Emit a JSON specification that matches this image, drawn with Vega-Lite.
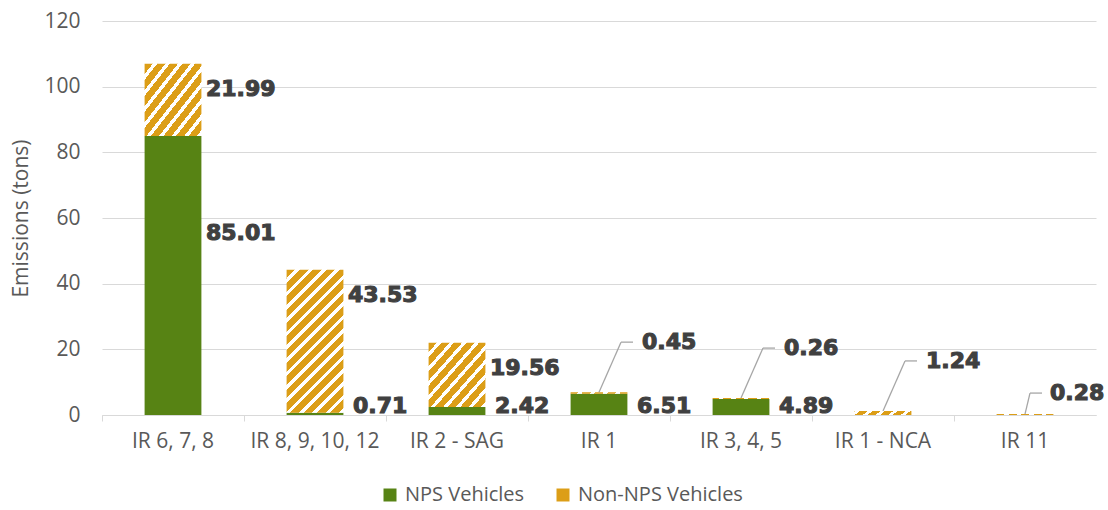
{
  "$schema": "https://vega.github.io/schema/vega-lite/v6.json",
  "width": 994,
  "height": 394,
  "autosize": {"type": "none"},
  "padding": {"left": 102, "top": 21, "right": 12, "bottom": 95},
  "background": "white",
  "config": {
    "view": {"stroke": null},
    "font": "Open Sans"
  },
  "data": {
    "values": [
      {"region": "IR 6, 7, 8", "type": "NPS Vehicles", "value": 85.01},
      {"region": "IR 6, 7, 8", "type": "Non-NPS Vehicles", "value": 21.99},
      {"region": "IR 8, 9, 10, 12", "type": "NPS Vehicles", "value": 0.71},
      {"region": "IR 8, 9, 10, 12", "type": "Non-NPS Vehicles", "value": 43.53},
      {"region": "IR 2 - SAG", "type": "NPS Vehicles", "value": 2.42},
      {"region": "IR 2 - SAG", "type": "Non-NPS Vehicles", "value": 19.56},
      {"region": "IR 1", "type": "NPS Vehicles", "value": 6.51},
      {"region": "IR 1", "type": "Non-NPS Vehicles", "value": 0.45},
      {"region": "IR 3, 4, 5", "type": "NPS Vehicles", "value": 4.89},
      {"region": "IR 3, 4, 5", "type": "Non-NPS Vehicles", "value": 0.26},
      {"region": "IR 1 - NCA", "type": "Non-NPS Vehicles", "value": 1.24},
      {"region": "IR 11", "type": "Non-NPS Vehicles", "value": 0.28}
    ]
  },
  "transform": [
    {"stack": "value", "groupby": ["region"], "sort": [{"field": "type", "order": "ascending"}], "as": ["y0", "y1"]}
  ],
  "encoding": {
    "x": {
      "field": "region",
      "type": "nominal",
      "sort": null,
      "scale": {"paddingInner": 0, "paddingOuter": 0},
      "axis": {
        "title": null,
        "labelAngle": 0,
        "labelFont": "Open Sans",
        "labelFontSize": 21,
        "labelColor": "#595959",
        "domainColor": "#d9d9d9",
        "domainWidth": 1,
        "tickColor": "#d9d9d9",
        "tickSize": 6,
        "bandPosition": 0,
        "labelPadding": 9,
        "grid": false
      }
    }
  },
  "layer": [
    {
      "transform": [{"filter": "datum.type === 'NPS Vehicles'"}],
      "mark": {"type": "bar", "width": {"band": 0.4}},
      "encoding": {
        "y": {
          "field": "y1",
          "type": "quantitative",
          "scale": {"domain": [0, 120], "nice": false},
          "axis": {
            "title": "Emissions (tons)",
            "values": [0, 20, 40, 60, 80, 100, 120],
            "labelFont": "Open Sans",
            "labelFontSize": 21,
            "labelColor": "#595959",
            "labelPadding": 22,
            "ticks": false,
            "domain": false,
            "gridColor": "#d9d9d9",
            "gridWidth": 1,
            "titleFont": "Open Sans",
            "titleFontSize": 21,
            "titleFontWeight": "normal",
            "titleColor": "#595959",
            "titlePadding": 12
          }
        },
        "y2": {"field": "y0"},
        "color": {
          "field": "type",
          "type": "nominal",
          "scale": {"domain": ["NPS Vehicles", "Non-NPS Vehicles"], "range": ["#578314", "#dc9e17"]},
          "legend": {
            "title": null,
            "orient": "none",
            "direction": "horizontal",
            "legendX": 278,
            "legendY": 464,
            "symbolType": "square",
            "symbolSize": 169,
            "symbolStrokeWidth": 0,
            "labelFont": "Open Sans",
            "labelFontSize": 20,
            "labelColor": "#595959",
            "labelOffset": 5,
            "labelLimit": 400,
            "columnPadding": 28
          }
        }
      }
    },
    {
      "transform": [{"filter": "datum.type === 'Non-NPS Vehicles' && datum.region !== 'IR 8, 9, 10, 12'"}],
      "mark": {
        "type": "bar",
        "width": {"band": 0.4},
        "fill": {
          "gradient": "linear", "x1": 0, "y1": 0, "x2": 1, "y2": 1,
          "stops": [
            {"offset": 0, "color": "#dc9e17"}, {"offset": 0.0722, "color": "#dc9e17"}, {"offset": 0.0722, "color": "#ffffff"}, {"offset": 0.1111, "color": "#ffffff"},
            {"offset": 0.1111, "color": "#dc9e17"}, {"offset": 0.1833, "color": "#dc9e17"}, {"offset": 0.1833, "color": "#ffffff"}, {"offset": 0.2222, "color": "#ffffff"},
            {"offset": 0.2222, "color": "#dc9e17"}, {"offset": 0.2944, "color": "#dc9e17"}, {"offset": 0.2944, "color": "#ffffff"}, {"offset": 0.3333, "color": "#ffffff"},
            {"offset": 0.3333, "color": "#dc9e17"}, {"offset": 0.4056, "color": "#dc9e17"}, {"offset": 0.4056, "color": "#ffffff"}, {"offset": 0.4444, "color": "#ffffff"},
            {"offset": 0.4444, "color": "#dc9e17"}, {"offset": 0.5167, "color": "#dc9e17"}, {"offset": 0.5167, "color": "#ffffff"}, {"offset": 0.5556, "color": "#ffffff"},
            {"offset": 0.5556, "color": "#dc9e17"}, {"offset": 0.6278, "color": "#dc9e17"}, {"offset": 0.6278, "color": "#ffffff"}, {"offset": 0.6667, "color": "#ffffff"},
            {"offset": 0.6667, "color": "#dc9e17"}, {"offset": 0.7389, "color": "#dc9e17"}, {"offset": 0.7389, "color": "#ffffff"}, {"offset": 0.7778, "color": "#ffffff"},
            {"offset": 0.7778, "color": "#dc9e17"}, {"offset": 0.85, "color": "#dc9e17"}, {"offset": 0.85, "color": "#ffffff"}, {"offset": 0.8889, "color": "#ffffff"},
            {"offset": 0.8889, "color": "#dc9e17"}, {"offset": 0.9611, "color": "#dc9e17"}, {"offset": 0.9611, "color": "#ffffff"}, {"offset": 1, "color": "#ffffff"}
          ]
        }
      },
      "encoding": {
        "y": {"field": "y1", "type": "quantitative"},
        "y2": {"field": "y0"}
      }
    },
    {
      "transform": [{"filter": "datum.type === 'Non-NPS Vehicles' && datum.region === 'IR 8, 9, 10, 12'"}],
      "mark": {
        "type": "bar",
        "width": {"band": 0.4},
        "fill": {
          "gradient": "linear", "x1": 0, "y1": 0, "x2": 0.4814, "y2": 1.2069,
          "stops": [
            {"offset": 0, "color": "#dc9e17"}, {"offset": 0.0433, "color": "#dc9e17"}, {"offset": 0.0433, "color": "#ffffff"}, {"offset": 0.0667, "color": "#ffffff"},
            {"offset": 0.0667, "color": "#dc9e17"}, {"offset": 0.11, "color": "#dc9e17"}, {"offset": 0.11, "color": "#ffffff"}, {"offset": 0.1333, "color": "#ffffff"},
            {"offset": 0.1333, "color": "#dc9e17"}, {"offset": 0.1767, "color": "#dc9e17"}, {"offset": 0.1767, "color": "#ffffff"}, {"offset": 0.2, "color": "#ffffff"},
            {"offset": 0.2, "color": "#dc9e17"}, {"offset": 0.2433, "color": "#dc9e17"}, {"offset": 0.2433, "color": "#ffffff"}, {"offset": 0.2667, "color": "#ffffff"},
            {"offset": 0.2667, "color": "#dc9e17"}, {"offset": 0.31, "color": "#dc9e17"}, {"offset": 0.31, "color": "#ffffff"}, {"offset": 0.3333, "color": "#ffffff"},
            {"offset": 0.3333, "color": "#dc9e17"}, {"offset": 0.3767, "color": "#dc9e17"}, {"offset": 0.3767, "color": "#ffffff"}, {"offset": 0.4, "color": "#ffffff"},
            {"offset": 0.4, "color": "#dc9e17"}, {"offset": 0.4433, "color": "#dc9e17"}, {"offset": 0.4433, "color": "#ffffff"}, {"offset": 0.4667, "color": "#ffffff"},
            {"offset": 0.4667, "color": "#dc9e17"}, {"offset": 0.51, "color": "#dc9e17"}, {"offset": 0.51, "color": "#ffffff"}, {"offset": 0.5333, "color": "#ffffff"},
            {"offset": 0.5333, "color": "#dc9e17"}, {"offset": 0.5767, "color": "#dc9e17"}, {"offset": 0.5767, "color": "#ffffff"}, {"offset": 0.6, "color": "#ffffff"},
            {"offset": 0.6, "color": "#dc9e17"}, {"offset": 0.6433, "color": "#dc9e17"}, {"offset": 0.6433, "color": "#ffffff"}, {"offset": 0.6667, "color": "#ffffff"},
            {"offset": 0.6667, "color": "#dc9e17"}, {"offset": 0.71, "color": "#dc9e17"}, {"offset": 0.71, "color": "#ffffff"}, {"offset": 0.7333, "color": "#ffffff"},
            {"offset": 0.7333, "color": "#dc9e17"}, {"offset": 0.7767, "color": "#dc9e17"}, {"offset": 0.7767, "color": "#ffffff"}, {"offset": 0.8, "color": "#ffffff"},
            {"offset": 0.8, "color": "#dc9e17"}, {"offset": 0.8433, "color": "#dc9e17"}, {"offset": 0.8433, "color": "#ffffff"}, {"offset": 0.8667, "color": "#ffffff"},
            {"offset": 0.8667, "color": "#dc9e17"}, {"offset": 0.91, "color": "#dc9e17"}, {"offset": 0.91, "color": "#ffffff"}, {"offset": 0.9333, "color": "#ffffff"},
            {"offset": 0.9333, "color": "#dc9e17"}, {"offset": 0.9767, "color": "#dc9e17"}, {"offset": 0.9767, "color": "#ffffff"}, {"offset": 1, "color": "#ffffff"}
          ]
        }
      },
      "encoding": {
        "y": {"field": "y1", "type": "quantitative"},
        "y2": {"field": "y0"}
      }
    },
    {
      "transform": [{"filter": "datum.type === 'NPS Vehicles' && datum.region !== 'IR 6, 7, 8'"}],
      "mark": {"type": "text", "font": "DejaVu Sans", "fontWeight": "bold", "fontSize": 22, "color": "#404040", "stroke": "#404040", "strokeWidth": 1.1, "align": "left", "baseline": "middle", "dx": 38, "dy": -9},
      "encoding": {
        "y": {"field": "y0", "type": "quantitative"},
        "text": {"field": "value", "type": "quantitative", "format": ".2f"}
      }
    },
    {
      "transform": [{"filter": "datum.type === 'NPS Vehicles' && datum.region === 'IR 6, 7, 8'"}],
      "mark": {"type": "text", "font": "DejaVu Sans", "fontWeight": "bold", "fontSize": 22, "color": "#404040", "stroke": "#404040", "strokeWidth": 1.1, "align": "left", "baseline": "middle", "dx": 33, "dy": 97},
      "encoding": {
        "y": {"field": "y1", "type": "quantitative"},
        "text": {"field": "value", "type": "quantitative", "format": ".2f"}
      }
    },
    {
      "transform": [{"filter": "datum.type === 'Non-NPS Vehicles' && (datum.region === 'IR 6, 7, 8' || datum.region === 'IR 8, 9, 10, 12' || datum.region === 'IR 2 - SAG')"}],
      "mark": {"type": "text", "font": "DejaVu Sans", "fontWeight": "bold", "fontSize": 22, "color": "#404040", "stroke": "#404040", "strokeWidth": 1.1, "align": "left", "baseline": "middle", "dx": 33, "dy": 25},
      "encoding": {
        "y": {"field": "y1", "type": "quantitative"},
        "text": {"field": "value", "type": "quantitative", "format": ".2f"}
      }
    },
    {
      "transform": [{"filter": "datum.type === 'Non-NPS Vehicles' && (datum.region === 'IR 1' || datum.region === 'IR 3, 4, 5' || datum.region === 'IR 1 - NCA')"}],
      "mark": {"type": "rule", "color": "#a6a6a6", "strokeWidth": 1.3, "x2Offset": 22, "y2Offset": -50},
      "encoding": {
        "x2": {"field": "region"},
        "y": {"field": "y1", "type": "quantitative"},
        "y2": {"field": "y1"}
      }
    },
    {
      "transform": [{"filter": "datum.type === 'Non-NPS Vehicles' && (datum.region === 'IR 1' || datum.region === 'IR 3, 4, 5' || datum.region === 'IR 1 - NCA')"}],
      "mark": {"type": "rule", "color": "#a6a6a6", "strokeWidth": 1.3, "xOffset": 22, "x2Offset": 34, "yOffset": -50},
      "encoding": {
        "x2": {"field": "region"},
        "y": {"field": "y1", "type": "quantitative"}
      }
    },
    {
      "transform": [{"filter": "datum.type === 'Non-NPS Vehicles' && (datum.region === 'IR 1' || datum.region === 'IR 3, 4, 5' || datum.region === 'IR 1 - NCA')"}],
      "mark": {"type": "text", "font": "DejaVu Sans", "fontWeight": "bold", "fontSize": 22, "color": "#404040", "stroke": "#404040", "strokeWidth": 1.1, "align": "left", "baseline": "middle", "dx": 43, "dy": -50},
      "encoding": {
        "y": {"field": "y1", "type": "quantitative"},
        "text": {"field": "value", "type": "quantitative", "format": ".2f"}
      }
    },
    {
      "transform": [{"filter": "datum.type === 'Non-NPS Vehicles' && datum.region === 'IR 11'"}],
      "mark": {"type": "rule", "color": "#a6a6a6", "strokeWidth": 1.3, "x2Offset": 5, "y2Offset": -21},
      "encoding": {
        "x2": {"field": "region"},
        "y": {"field": "y1", "type": "quantitative"},
        "y2": {"field": "y1"}
      }
    },
    {
      "transform": [{"filter": "datum.type === 'Non-NPS Vehicles' && datum.region === 'IR 11'"}],
      "mark": {"type": "rule", "color": "#a6a6a6", "strokeWidth": 1.3, "xOffset": 5, "x2Offset": 17, "yOffset": -21},
      "encoding": {
        "x2": {"field": "region"},
        "y": {"field": "y1", "type": "quantitative"}
      }
    },
    {
      "transform": [{"filter": "datum.type === 'Non-NPS Vehicles' && datum.region === 'IR 11'"}],
      "mark": {"type": "text", "font": "DejaVu Sans", "fontWeight": "bold", "fontSize": 22, "color": "#404040", "stroke": "#404040", "strokeWidth": 1.1, "align": "left", "baseline": "middle", "dx": 25, "dy": -21},
      "encoding": {
        "y": {"field": "y1", "type": "quantitative"},
        "text": {"field": "value", "type": "quantitative", "format": ".2f"}
      }
    }
  ]
}
